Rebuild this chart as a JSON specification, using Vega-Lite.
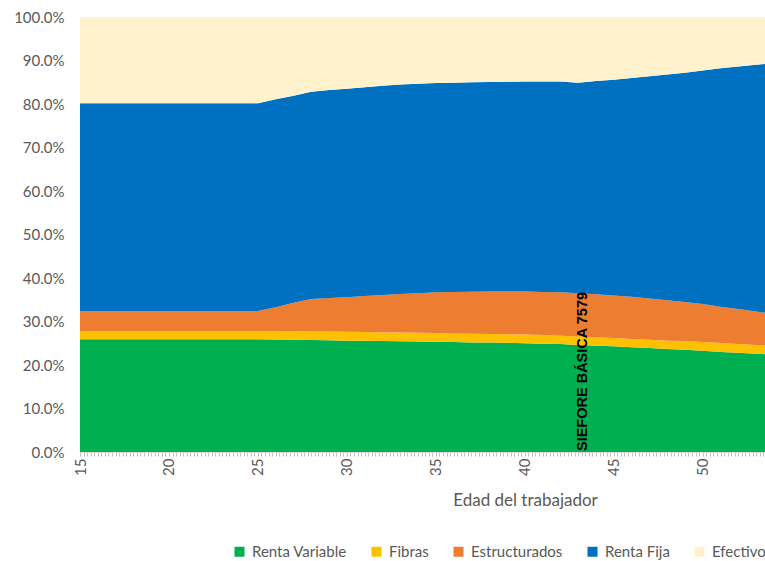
{
  "$schema": "https://vega.github.io/schema/vega-lite/v6.json",
  "width": 685,
  "height": 435,
  "autosize": {"type": "none"},
  "padding": {"left": 80, "top": 17, "right": 0, "bottom": 109},
  "config": {"view": {"stroke": null}, "font": "Lato"},
  "layer": [
    {
      "data": {"values": [
        {"edad": 15, "Renta Variable": 25.9, "Fibras": 1.9, "Estructurados": 4.6, "Renta Fija": 47.8, "Efectivo": 19.8},
        {"edad": 16, "Renta Variable": 25.9, "Fibras": 1.9, "Estructurados": 4.6, "Renta Fija": 47.8, "Efectivo": 19.8},
        {"edad": 17, "Renta Variable": 25.9, "Fibras": 1.9, "Estructurados": 4.6, "Renta Fija": 47.8, "Efectivo": 19.8},
        {"edad": 18, "Renta Variable": 25.9, "Fibras": 1.9, "Estructurados": 4.6, "Renta Fija": 47.8, "Efectivo": 19.8},
        {"edad": 19, "Renta Variable": 25.9, "Fibras": 1.9, "Estructurados": 4.6, "Renta Fija": 47.8, "Efectivo": 19.8},
        {"edad": 20, "Renta Variable": 25.9, "Fibras": 1.9, "Estructurados": 4.6, "Renta Fija": 47.8, "Efectivo": 19.8},
        {"edad": 21, "Renta Variable": 25.9, "Fibras": 1.9, "Estructurados": 4.6, "Renta Fija": 47.8, "Efectivo": 19.8},
        {"edad": 22, "Renta Variable": 25.9, "Fibras": 1.9, "Estructurados": 4.6, "Renta Fija": 47.8, "Efectivo": 19.8},
        {"edad": 23, "Renta Variable": 25.9, "Fibras": 1.9, "Estructurados": 4.6, "Renta Fija": 47.8, "Efectivo": 19.8},
        {"edad": 24, "Renta Variable": 25.9, "Fibras": 1.9, "Estructurados": 4.6, "Renta Fija": 47.8, "Efectivo": 19.8},
        {"edad": 25, "Renta Variable": 25.9, "Fibras": 1.9, "Estructurados": 4.6, "Renta Fija": 47.8, "Efectivo": 19.8},
        {"edad": 26, "Renta Variable": 25.85, "Fibras": 1.95, "Estructurados": 5.5, "Renta Fija": 47.8, "Efectivo": 18.9},
        {"edad": 27, "Renta Variable": 25.8, "Fibras": 1.95, "Estructurados": 6.55, "Renta Fija": 47.6, "Efectivo": 18.1},
        {"edad": 28, "Renta Variable": 25.75, "Fibras": 1.95, "Estructurados": 7.5, "Renta Fija": 47.6, "Efectivo": 17.2},
        {"edad": 29, "Renta Variable": 25.7, "Fibras": 2.0, "Estructurados": 7.7, "Renta Fija": 47.8, "Efectivo": 16.8},
        {"edad": 30, "Renta Variable": 25.6, "Fibras": 2.05, "Estructurados": 7.95, "Renta Fija": 47.9, "Efectivo": 16.5},
        {"edad": 31, "Renta Variable": 25.55, "Fibras": 2.05, "Estructurados": 8.25, "Renta Fija": 48.0, "Efectivo": 16.15},
        {"edad": 32, "Renta Variable": 25.5, "Fibras": 2.0, "Estructurados": 8.6, "Renta Fija": 48.1, "Efectivo": 15.8},
        {"edad": 33, "Renta Variable": 25.45, "Fibras": 2.0, "Estructurados": 8.85, "Renta Fija": 48.2, "Efectivo": 15.5},
        {"edad": 34, "Renta Variable": 25.4, "Fibras": 2.0, "Estructurados": 9.1, "Renta Fija": 48.15, "Efectivo": 15.35},
        {"edad": 35, "Renta Variable": 25.35, "Fibras": 2.0, "Estructurados": 9.35, "Renta Fija": 48.1, "Efectivo": 15.2},
        {"edad": 36, "Renta Variable": 25.3, "Fibras": 1.95, "Estructurados": 9.55, "Renta Fija": 48.1, "Efectivo": 15.1},
        {"edad": 37, "Renta Variable": 25.2, "Fibras": 2.0, "Estructurados": 9.65, "Renta Fija": 48.15, "Efectivo": 15.0},
        {"edad": 38, "Renta Variable": 25.15, "Fibras": 1.95, "Estructurados": 9.8, "Renta Fija": 48.15, "Efectivo": 14.95},
        {"edad": 39, "Renta Variable": 25.1, "Fibras": 1.95, "Estructurados": 9.85, "Renta Fija": 48.2, "Efectivo": 14.9},
        {"edad": 40, "Renta Variable": 25.0, "Fibras": 2.0, "Estructurados": 9.9, "Renta Fija": 48.25, "Efectivo": 14.85},
        {"edad": 41, "Renta Variable": 24.9, "Fibras": 2.0, "Estructurados": 9.9, "Renta Fija": 48.4, "Efectivo": 14.8},
        {"edad": 42, "Renta Variable": 24.8, "Fibras": 1.95, "Estructurados": 9.95, "Renta Fija": 48.5, "Efectivo": 14.8},
        {"edad": 43, "Renta Variable": 24.6, "Fibras": 2.0, "Estructurados": 9.9, "Renta Fija": 48.4, "Efectivo": 15.1},
        {"edad": 44, "Renta Variable": 24.45, "Fibras": 1.95, "Estructurados": 9.85, "Renta Fija": 49.05, "Efectivo": 14.7},
        {"edad": 45, "Renta Variable": 24.3, "Fibras": 1.9, "Estructurados": 9.8, "Renta Fija": 49.6, "Efectivo": 14.4},
        {"edad": 46, "Renta Variable": 24.1, "Fibras": 1.9, "Estructurados": 9.7, "Renta Fija": 50.3, "Efectivo": 14.0},
        {"edad": 47, "Renta Variable": 23.9, "Fibras": 1.9, "Estructurados": 9.5, "Renta Fija": 51.1, "Efectivo": 13.6},
        {"edad": 48, "Renta Variable": 23.7, "Fibras": 1.9, "Estructurados": 9.3, "Renta Fija": 51.9, "Efectivo": 13.2},
        {"edad": 49, "Renta Variable": 23.5, "Fibras": 2.0, "Estructurados": 9.0, "Renta Fija": 52.7, "Efectivo": 12.8},
        {"edad": 50, "Renta Variable": 23.3, "Fibras": 2.0, "Estructurados": 8.7, "Renta Fija": 53.7, "Efectivo": 12.3},
        {"edad": 51, "Renta Variable": 23.0, "Fibras": 2.05, "Estructurados": 8.35, "Renta Fija": 54.8, "Efectivo": 11.8},
        {"edad": 52, "Renta Variable": 22.8, "Fibras": 2.0, "Estructurados": 8.1, "Renta Fija": 55.7, "Efectivo": 11.4},
        {"edad": 53, "Renta Variable": 22.6, "Fibras": 2.0, "Estructurados": 7.7, "Renta Fija": 56.7, "Efectivo": 11.0},
        {"edad": 54, "Renta Variable": 22.4, "Fibras": 2.0, "Estructurados": 7.3, "Renta Fija": 57.7, "Efectivo": 10.6}
      ]},
      "transform": [
        {"fold": ["Renta Variable", "Fibras", "Estructurados", "Renta Fija", "Efectivo"], "as": ["serie", "pct"]},
        {"lookup": "serie", "from": {"data": {"values": [
          {"serie": "Renta Variable", "orden": 1},
          {"serie": "Fibras", "orden": 2},
          {"serie": "Estructurados", "orden": 3},
          {"serie": "Renta Fija", "orden": 4},
          {"serie": "Efectivo", "orden": 5}
        ]}, "key": "serie", "fields": ["orden"]}}
      ],
      "mark": {"type": "area", "clip": true, "interpolate": "linear"},
      "encoding": {
        "x": {
          "field": "edad", "type": "quantitative",
          "scale": {"domain": [15, 53.5], "nice": false, "zero": false},
          "axis": {
            "tickCount": 200,
            "labelExpr": "abs(datum.value - round(datum.value)) < 0.01 && round(datum.value) % 5 == 0 ? format(round(datum.value), 'd') : ''",
            "labelAngle": 270,
            "labelFontSize": 15,
            "labelColor": "#595959",
            "labelPadding": 2,
            "labelOverlap": false,
            "labelFlush": false,
            "labelBound": false,
            "tickColor": "#BFBFBF",
            "tickSize": 4,
            "domainColor": "#D9D9D9",
            "grid": false,
            "title": "Edad del trabajador",
            "titleFontSize": 17,
            "titleFontWeight": "normal",
            "titleColor": "#595959",
            "titleX": 445,
            "titleY": 48,
            "titleBaseline": "middle"
          }
        },
        "y": {
          "field": "pct", "type": "quantitative", "stack": "zero",
          "scale": {"domain": [0, 100], "nice": false},
          "axis": {
            "values": [0, 10, 20, 30, 40, 50, 60, 70, 80, 90, 100],
            "labelExpr": "format(datum.value, '.1f') + '%'",
            "ticks": false,
            "domain": false,
            "grid": true,
            "gridColor": "#D9D9D9",
            "labelFontSize": 15,
            "labelColor": "#595959",
            "labelPadding": 16,
            "title": null
          }
        },
        "color": {
          "field": "serie", "type": "nominal",
          "sort": ["Renta Variable", "Fibras", "Estructurados", "Renta Fija", "Efectivo"],
          "scale": {
            "domain": ["Renta Variable", "Fibras", "Estructurados", "Renta Fija", "Efectivo"],
            "range": ["#00B050", "#FFC000", "#ED7D31", "#0070C0", "#FFF2CC"]
          },
          "legend": {
            "orient": "none",
            "legendX": 152,
            "legendY": 527,
            "direction": "horizontal",
            "title": null,
            "symbolType": "square",
            "symbolSize": 100,
            "symbolOpacity": 1,
            "symbolStrokeWidth": 0,
            "labelFontSize": 15,
            "labelColor": "#595959",
            "labelOffset": 5,
            "columnPadding": 22,
            "padding": 0
          }
        },
        "order": {"field": "orden", "type": "quantitative", "sort": "ascending"}
      }
    },
    {
      "data": {"values": [{"edad": 43, "texto": "SIEFORE BÁSICA 7579"}]},
      "mark": {"type": "text", "angle": 270, "align": "left", "baseline": "middle", "fontWeight": "bold", "fontSize": 14.5, "font": "Liberation Sans", "color": "black", "dx": 1, "dy": 5},
      "encoding": {
        "x": {"field": "edad", "type": "quantitative"},
        "y": {"datum": 0},
        "text": {"field": "texto"}
      }
    }
  ]
}
